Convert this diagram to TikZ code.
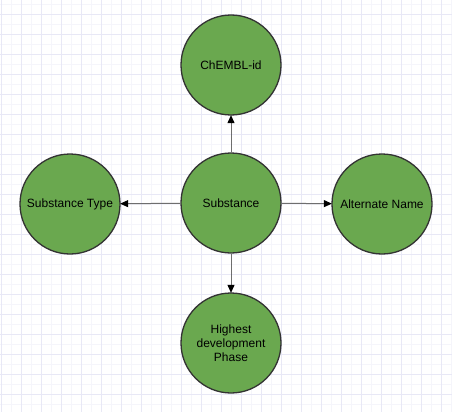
\documentclass[tikz,border=0pt]{standalone}
\usepackage{fontspec}
\setmainfont{Liberation Sans}
\usetikzlibrary{arrows.meta}
\definecolor{gridminor}{HTML}{F5F5FB}
\definecolor{gridmajor}{HTML}{E8E8F6}
\definecolor{nodefill}{HTML}{6AA84F}
\definecolor{nodeline}{HTML}{333333}
\definecolor{edgecol}{HTML}{6E6E6E}
\tikzset{
  entity/.style={circle, draw=nodeline, line width=1.3pt, fill=nodefill, minimum size=100pt, inner sep=0pt, align=center, font=\fontsize{12}{14}\selectfont, text=black},
  link/.style={draw=edgecol, line width=1pt, -{Triangle[length=8pt,width=7pt,color=black]}, shorten >=-0.5pt}
}
\begin{document}
\begin{tikzpicture}[x=1pt,y=-1pt]
\useasboundingbox (0,0) rectangle (452,412);
\fill[white] (0,0) rectangle (452,412);
\foreach \x in {11,31,...,451} \draw[gridminor, line width=0.9pt] (\x,0) -- (\x,412);
\foreach \y in {4,24,...,412} \draw[gridminor, line width=0.9pt] (0,\y) -- (452,\y);
\foreach \x in {1,21,...,451} \draw[gridmajor, line width=0.9pt] (\x,0) -- (\x,412);
\foreach \y in {14,34,...,412} \draw[gridmajor, line width=0.9pt] (0,\y) -- (452,\y);
\node[entity] (sub) at (231,203) {Substance};
\node[entity] (chembl) at (231,65) {ChEMBL-id};
\node[entity] (type) at (70,204) {Substance Type};
\node[entity] (alt) at (382,204) {Alternate Name};
\node[entity] (phase) at (231,343) {Highest\\development\\Phase};
\draw[link] (sub) -- (chembl);
\draw[link] (sub) -- (type);
\draw[link] (sub) -- (alt);
\draw[link] (sub) -- (phase);
\end{tikzpicture}
\end{document}
